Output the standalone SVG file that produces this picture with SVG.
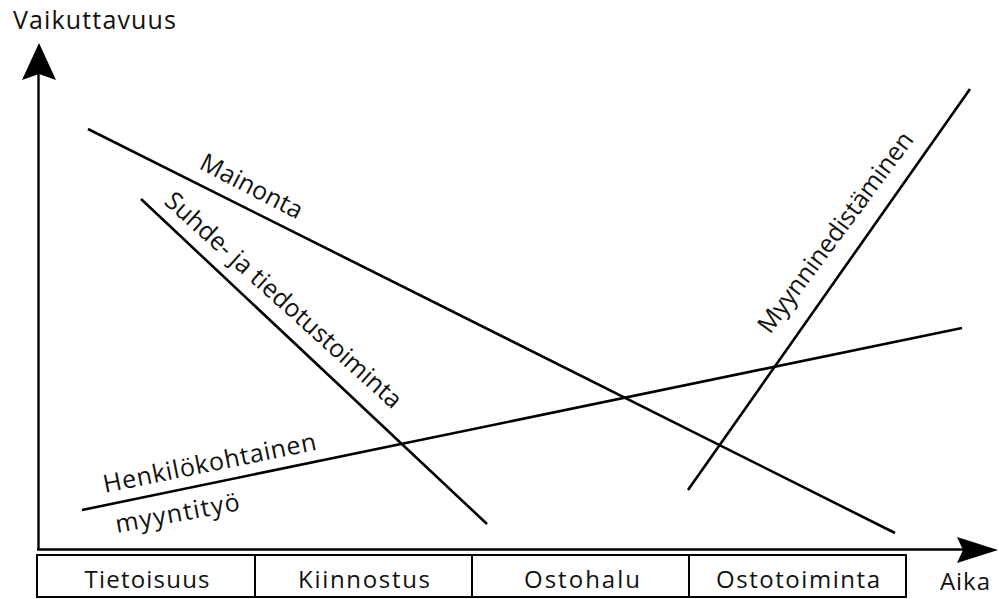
<svg xmlns="http://www.w3.org/2000/svg" width="999" height="599" viewBox="0 0 999 599">
<style>
  text { font-family: "Open Sans", "Noto Sans", "Liberation Sans", sans-serif; fill: #111; font-size: 24px; }
  .rot { font-size: 25px; }
  .ln { stroke: #000; stroke-width: 2.6; fill: none; stroke-linecap: butt; }
  .ax { stroke: #000; stroke-width: 2.4; fill: none; }
  .box { stroke: #000; stroke-width: 2; fill: #fff; }
  .mid { text-anchor: middle; }
</style>
<rect width="999" height="599" fill="#fff"/>
<g id="axes">
  <line class="ax" x1="38.5" y1="550" x2="38.5" y2="72"/>
  <polygon points="39,43 56,80 39,74 22,80" fill="#000"/>
  <line class="ax" x1="37" y1="549.5" x2="965" y2="549.5"/>
  <polygon points="998,550 957,537 963,550 957,563" fill="#000"/>
  <text x="13" y="29" style="font-size:25px" textLength="163" lengthAdjust="spacing">Vaikuttavuus</text>
  <text x="940" y="590" textLength="50" lengthAdjust="spacing">Aika</text>
</g>
<g id="phases">
  <g id="phase-tietoisuus">
    <rect class="box" x="37" y="555" width="218" height="42"/>
    <text class="mid" x="147" y="588" textLength="125" lengthAdjust="spacing">Tietoisuus</text>
  </g>
  <g id="phase-kiinnostus">
    <rect class="box" x="255" y="555" width="217" height="42"/>
    <text class="mid" x="364" y="588" textLength="132" lengthAdjust="spacing">Kiinnostus</text>
  </g>
  <g id="phase-ostohalu">
    <rect class="box" x="472" y="555" width="217" height="42"/>
    <text class="mid" x="582" y="588" textLength="116" lengthAdjust="spacing">Ostohalu</text>
  </g>
  <g id="phase-ostotoiminta">
    <rect class="box" x="689" y="555" width="217" height="42"/>
    <text class="mid" x="798" y="588" textLength="164" lengthAdjust="spacing">Ostotoiminta</text>
  </g>
</g>
<g id="connectors">
  <line id="line-mainonta" class="ln" x1="88" y1="129" x2="895" y2="533"/>
  <line id="line-suhde" class="ln" x1="141" y1="199" x2="487" y2="524"/>
  <line id="line-henkilo" class="ln" x1="82" y1="510" x2="962" y2="328"/>
  <line id="line-myynninedistaminen" class="ln" x1="688" y1="490" x2="970" y2="89"/>
</g>
<g id="label-mainonta">
  <text class="rot" transform="translate(198,168) rotate(27.5)" textLength="112" lengthAdjust="spacing">Mainonta</text>
</g>
<g id="label-suhde">
  <text class="rot" transform="translate(163,203) rotate(42)" textLength="309" lengthAdjust="spacing">Suhde- ja tiedotustoiminta</text>
</g>
<g id="label-henkilo">
  <text class="rot" transform="translate(105,493) rotate(-11.5)" textLength="217" lengthAdjust="spacing">Henkilökohtainen</text>
  <text class="rot" transform="translate(117,533) rotate(-10.5)" textLength="126" lengthAdjust="spacing">myyntityö</text>
</g>
<g id="label-myynninedistaminen">
  <text class="rot" transform="translate(770,335) rotate(-53.5)" textLength="243" lengthAdjust="spacing">Myynninedistäminen</text>
</g>
</svg>
